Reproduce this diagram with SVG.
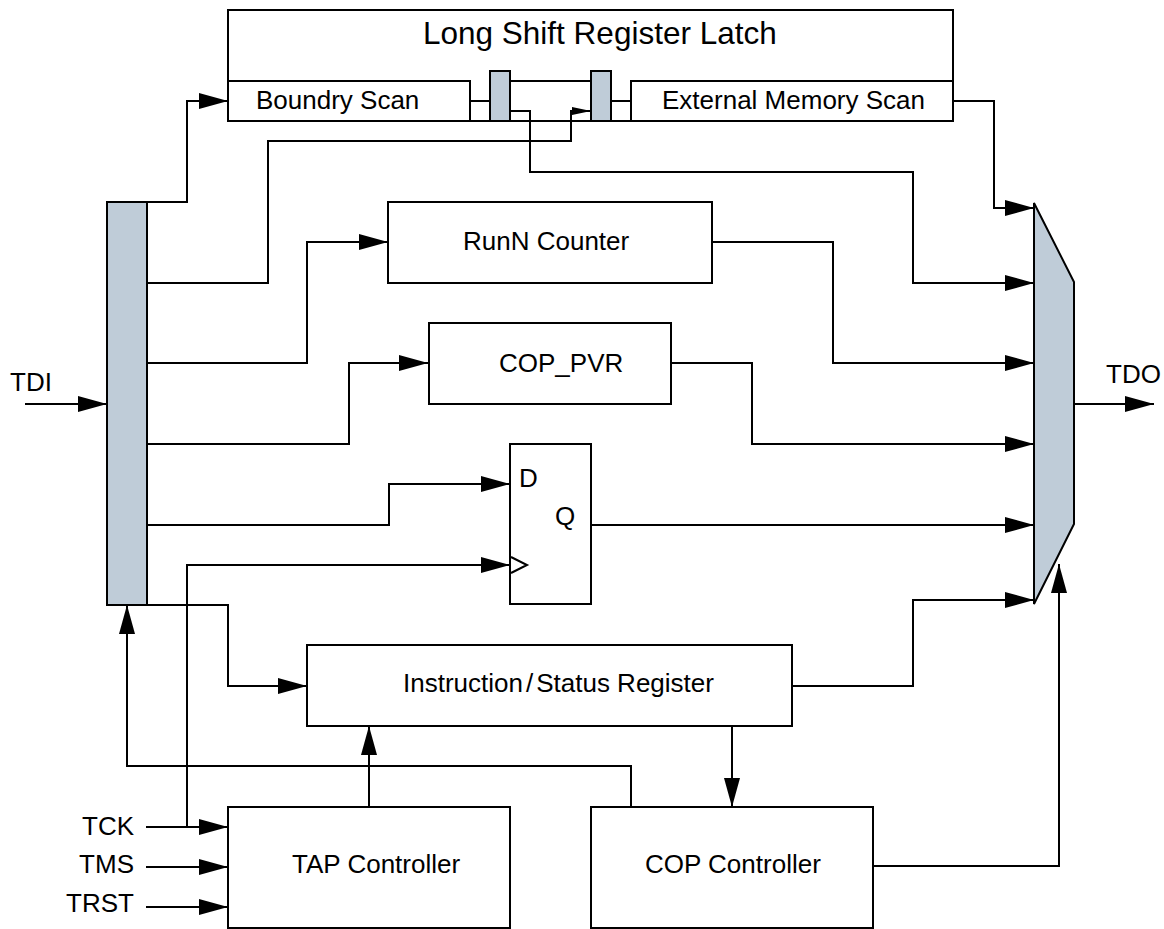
<svg xmlns="http://www.w3.org/2000/svg" width="1164" height="929" viewBox="0 0 1164 929">
<defs>
<style>
.box{fill:#fff;stroke:#000;stroke-width:2}
.blue{fill:#bfccd8;stroke:#000;stroke-width:2}
.ln{fill:none;stroke:#000;stroke-width:2}
.arr{fill:none;stroke:#000;stroke-width:2;marker-end:url(#ah)}
.arrs{fill:none;stroke:#000;stroke-width:2;marker-end:url(#ahs)}
text{font-family:"Liberation Sans",Arial,sans-serif;font-size:26px;fill:#000}
.title{font-size:31.5px}
</style>
<marker id="ah" markerUnits="userSpaceOnUse" markerWidth="30" markerHeight="18" refX="29" refY="8" orient="auto" viewBox="0 0 30 18">
<path d="M0,0 L29,8 L0,16 z" fill="#000"/>
</marker>
<marker id="ahs" markerUnits="userSpaceOnUse" markerWidth="20" markerHeight="10" refX="19" refY="4" orient="auto" viewBox="0 0 20 10">
<path d="M0,0 L19,4 L0,8 z" fill="#000"/>
</marker>
</defs>
<rect width="1164" height="929" fill="#fff"/>

<g id="latch">
<rect class="box" x="228" y="10" width="725" height="111"/>
<text class="title" x="423" y="44">Long Shift Register Latch</text>
<polyline class="ln" points="228,81 470,81 470,121"/>
<line class="ln" x1="510" y1="81" x2="591" y2="81"/>
<polyline class="ln" points="631,121 631,81 953,81"/>
<text x="256" y="109">Boundry Scan</text>
<text x="662" y="109">External Memory Scan</text>
</g>
<g id="latch-cell-1"><rect class="blue" x="490" y="71" width="20" height="50"/></g>
<g id="latch-cell-2"><rect class="blue" x="591" y="71" width="20" height="50"/></g>

<g id="tdi-bar"><rect class="blue" x="107" y="202" width="40" height="403"/></g>

<g id="runn"><rect class="box" x="388" y="202" width="324" height="81"/><text x="463" y="250">RunN Counter</text></g>
<g id="coppvr"><rect class="box" x="429" y="323" width="242" height="81"/><text x="499" y="372">COP_PVR</text></g>
<g id="ff">
<rect class="box" x="510" y="444" width="81" height="160"/>
<text x="519" y="487">D</text>
<text x="555" y="525">Q</text>
<polyline class="ln" points="511,557 527,565 511,573"/>
</g>
<g id="mux"><polygon class="blue" points="1034,203 1074,282 1074,524 1034,604"/></g>
<g id="isr"><rect class="box" x="307" y="645" width="485" height="81"/><text x="403" y="692">Instruction<tspan dx="3">/</tspan><tspan dx="3">Status Register</tspan></text></g>
<g id="tap"><rect class="box" x="228" y="807" width="282" height="121"/><text x="292" y="873">TAP Controller</text></g>
<g id="copctrl"><rect class="box" x="591" y="807" width="282" height="121"/><text x="645" y="873">COP Controller</text></g>

<g id="labels">
<text x="10" y="391">TDI</text>
<text x="1106" y="383">TDO</text>
<text x="134" y="835" text-anchor="end">TCK</text>
<text x="134" y="873" text-anchor="end">TMS</text>
<text x="134" y="912" text-anchor="end">TRST</text>
</g>

<g id="connectors">
<polyline class="arr" points="147,202 187,202 187,101 228,101"/>
<polyline class="arrs" points="147,283 268,283 268,141 571,141 571,111 591,111"/>
<polyline class="arr" points="147,363 307,363 307,242 388,242"/>
<polyline class="arr" points="147,444 349,444 349,363 428,363"/>
<polyline class="arr" points="147,525 389,525 389,484 510,484"/>
<polyline class="arr" points="147,605 228,605 228,686 307,686"/>
<polyline class="arr" points="187,827 187,565 510,565"/>
<line class="arr" x1="25" y1="404" x2="107" y2="404"/>
<line class="arr" x1="146" y1="827" x2="228" y2="827"/>
<line class="arr" x1="146" y1="867" x2="228" y2="867"/>
<line class="arr" x1="146" y1="907" x2="228" y2="907"/>
<line class="ln" x1="470" y1="101" x2="490" y2="101"/>
<line class="ln" x1="611" y1="101" x2="631" y2="101"/>
<polyline class="arr" points="510,111 530,111 530,172 913,172 913,283 1034,283"/>
<polyline class="arr" points="953,101 994,101 994,208 1034,208"/>
<polyline class="arr" points="712,242 833,242 833,363 1034,363"/>
<polyline class="arr" points="671,363 752,363 752,444 1034,444"/>
<line class="arr" x1="591" y1="525" x2="1034" y2="525"/>
<polyline class="arr" points="792,686 913,686 913,600 1034,600"/>
<polyline class="arr" points="873,866 1059,866 1059,564"/>
<line class="arr" x1="1074" y1="404" x2="1154" y2="404"/>
<line class="arr" x1="369" y1="807" x2="369" y2="726"/>
<line class="arr" x1="732" y1="726" x2="732" y2="807"/>
<polyline class="arr" points="631,807 631,766 127,766 127,605"/>
</g>
</svg>
